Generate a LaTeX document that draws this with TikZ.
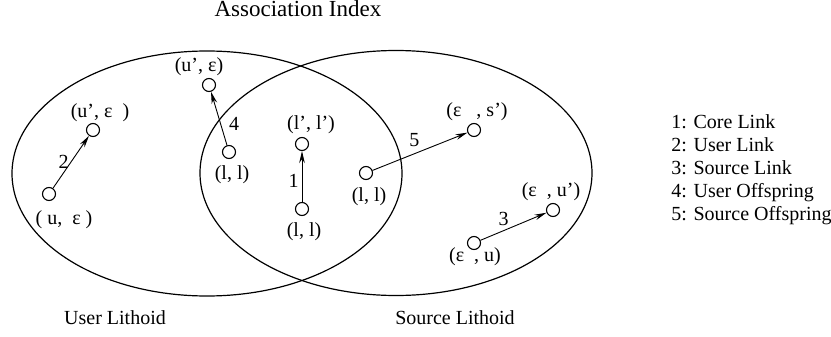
\documentclass[tikz,border=0pt]{standalone}
\usepackage{fontspec}
\setmainfont{Liberation Serif}
\usetikzlibrary{arrows.meta}
\begin{document}
\begin{tikzpicture}[x=0.5pt,y=-0.5pt,
    font=\fontsize{10}{12}\selectfont,
    state/.style={circle,draw,line width=0.55pt,minimum size=6.5pt,inner sep=0pt},
    link/.style={-{Stealth[length=6pt,width=2.8pt]},line width=0.45pt},
    tag/.style={inner sep=1pt}]
    \useasboundingbox (0,0) rectangle (831,337);

    % lithoids
    \draw[line width=0.6pt] (207,173.5) ellipse [x radius=97.5pt, y radius=61.25pt];
    \draw[line width=0.6pt] (396,173) ellipse [x radius=98pt, y radius=61.25pt];

    % states
    \node[state] (ue)   at (49,194)  {};
    \node[state] (upe)  at (93,130)  {};
    \node[state] (upt)  at (209,85)  {};
    \node[state] (llu)  at (229,152) {};
    \node[state] (lpl)  at (302,144) {};
    \node[state] (llc)  at (302,209) {};
    \node[state] (lls)  at (366,173) {};
    \node[state] (esp)  at (474,130) {};
    \node[state] (eu)   at (474,243) {};
    \node[state] (eup)  at (553,210) {};

    % state labels
    \node[tag] (ueL)  at (64,220)  {( u,\ \ ε )};
    \node[tag] (upeL) at (100,113) {(u’, ε\ \ )};
    \node[tag] (uptL) at (199,67)  {(u’, ε)};
    \node[tag] (lluL) at (232,175) {(l, l)};
    \node[tag] (lplL) at (311,125) {(l’, l’)};
    \node[tag] (llcL) at (304,232) {(l, l)};
    \node[tag] (llsL) at (369,197) {(l, l)};
    \node[tag] (espL) at (477,112) {(ε\ \ \ , s’)};
    \node[tag] (euL)  at (475,257) {(ε\ \ , u)};
    \node[tag] (eupL) at (551,192) {(ε\ \ , u’)};

    % links
    \draw[link] (ue)  -- node[tag,left]                  (n2) {2} (upe);
    \draw[link] (llu) -- node[tag,right=3pt,pos=0.4]     (n4) {4} (upt);
    \draw[link] (llc) -- node[tag,left=0.5pt,pos=0.42]   (n1) {1} (lpl);
    \draw[link] (lls) -- node[tag,above=2.5pt,pos=0.44]  (n5) {5} (esp);
    \draw[link] (eu)  -- node[tag,above=1pt,pos=0.35]    (n3) {3} (eup);

    % titles
    \node[tag,font=\fontsize{11.5}{13}\selectfont] (title) at (298,9) {Association Index};
    \node[tag] (user)   at (115,318) {User Lithoid};
    \node[tag] (source) at (455,318) {Source Lithoid};

    % legend
    \node[tag,anchor=west,align=left,font=\fontsize{10}{11.5}\selectfont] (legend) at (669,170)
        {1: Core Link\\2: User Link\\3: Source Link\\4: User Offspring\\5: Source Offspring};
\end{tikzpicture}
\end{document}
